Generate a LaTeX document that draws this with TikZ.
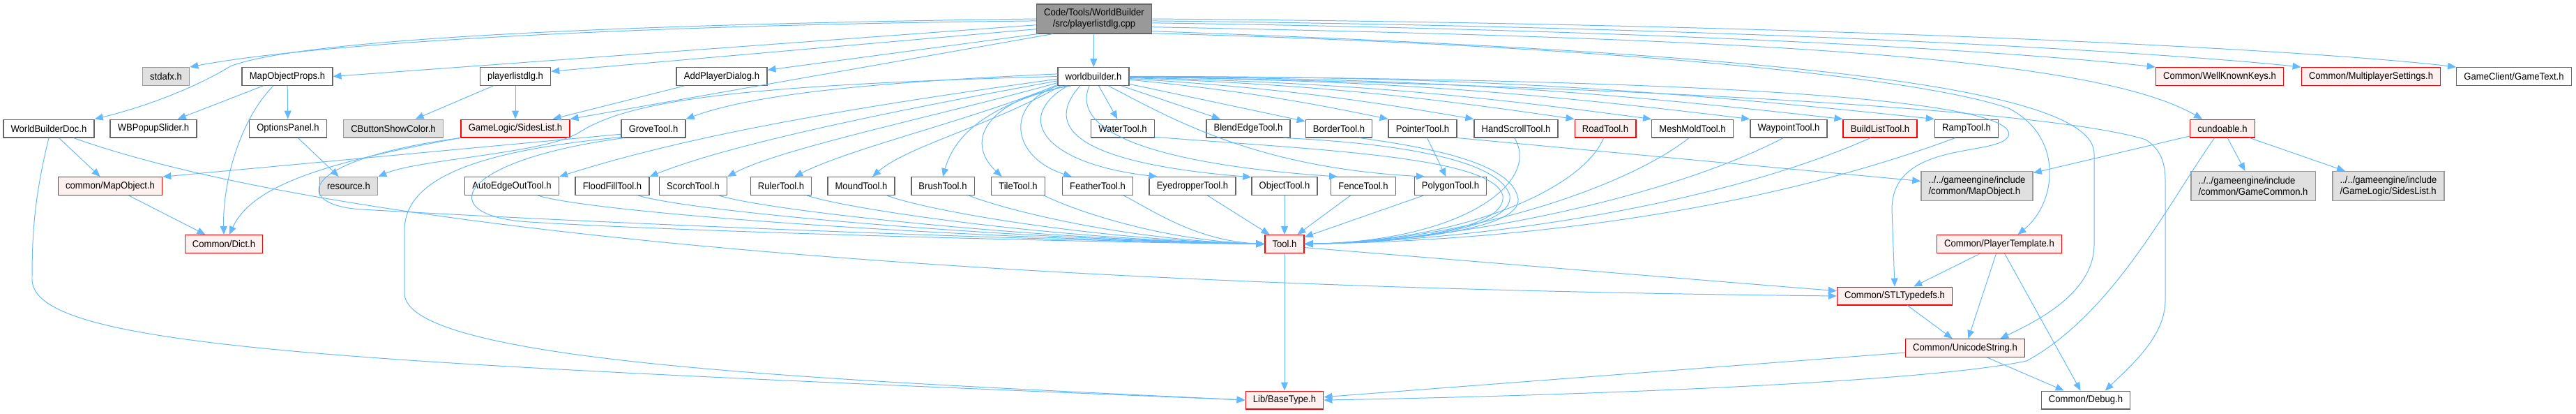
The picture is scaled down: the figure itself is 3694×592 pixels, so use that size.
\documentclass[tikz,border=0pt]{standalone}
\usepackage{fontspec}
\setmainfont{Liberation Sans}[FakeStretch=0.93]
\usetikzlibrary{arrows.meta}

\definecolor{depblue}{HTML}{63B8FF}
\definecolor{hdrgrey}{HTML}{666666}
\definecolor{extgrey}{HTML}{999999}
\definecolor{extfill}{HTML}{E0E0E0}
\definecolor{cutred}{HTML}{FF0000}
\definecolor{cutfill}{HTML}{FFF0F0}
\definecolor{srcfill}{HTML}{999999}

\begin{document}
\begin{tikzpicture}[x=0.025cm, y=-0.025cm, font=\fontsize{10}{11.4}\selectfont,
    hdr/.style={draw=hdrgrey, fill=white, line width=1pt, minimum height=18.2pt,
      inner xsep=7.6pt, inner ysep=1pt},
    ext/.style={hdr, draw=extgrey, fill=extfill},
    cut/.style={hdr, draw=cutred, fill=cutfill},
    srcfile/.style={hdr, fill=srcfill, align=center, minimum height=29.6pt},
    twoline/.style={align=left, minimum height=29.6pt},
    dep/.style={draw=depblue, line width=0.7pt, -{Triangle[length=8.5pt, width=7pt]}}]
  \useasboundingbox (0,0) rectangle (3694,592);

  % source file
  \node[srcfile] (cpp) at (1569,27) {Code/Tools/WorldBuilder\\/src/playerlistdlg.cpp};
  % first row
  \node[ext] (stdafx) at (238,109.5) {stdafx.h};
  \node[hdr] (mapprops) at (412,109.5) {MapObjectProps.h};
  \node[hdr] (plistdlg) at (739,109.5) {playerlistdlg.h};
  \node[hdr] (addplayer) at (1035,109.5) {AddPlayerDialog.h};
  \node[hdr] (wbh) at (1568,109.5) {worldbuilder.h};
  \node[cut] (wkkeys) at (3183,109.5) {Common/WellKnownKeys.h};
  \node[cut] (mpset) at (3400,109.5) {Common/MultiplayerSettings.h};
  \node[hdr] (gametext) at (3605,109.5) {GameClient/GameText.h};
  % second row
  \node[hdr] (wbdoc) at (70,184) {WorldBuilderDoc.h};
  \node[hdr] (popup) at (220,184) {WBPopupSlider.h};
  \node[hdr] (optpanel) at (413,184) {OptionsPanel.h};
  \node[ext] (showcolor) at (564,184) {CButtonShowColor.h};
  \node[cut] (gsides) at (739,184) {GameLogic/SidesList.h};
  \node[hdr] (grove) at (937,184) {GroveTool.h};
  \node[hdr] (water) at (1610,184) {WaterTool.h};
  \node[hdr] (blend) at (1790,184) {BlendEdgeTool.h};
  \node[hdr] (border) at (1920,184) {BorderTool.h};
  \node[hdr] (pointer) at (2040,184) {PointerTool.h};
  \node[hdr] (handscroll) at (2174,184) {HandScrollTool.h};
  \node[cut] (road) at (2302,184) {RoadTool.h};
  \node[hdr] (meshmold) at (2427,184) {MeshMoldTool.h};
  \node[hdr] (waypoint) at (2565,184) {WaypointTool.h};
  \node[cut] (buildlist) at (2696,184) {BuildListTool.h};
  \node[hdr] (ramp) at (2820,184) {RampTool.h};
  \node[cut] (cundo) at (3187,184) {cundoable.h};
  % third row
  \node[cut] (mapobj) at (158,266.5) {common/MapObject.h};
  \node[ext] (resource) at (500,266.5) {resource.h};
  \node[hdr] (autoedge) at (734,266.5) {AutoEdgeOutTool.h};
  \node[hdr] (floodfill) at (878,266.5) {FloodFillTool.h};
  \node[hdr] (scorch) at (994,266.5) {ScorchTool.h};
  \node[hdr] (ruler) at (1120,266.5) {RulerTool.h};
  \node[hdr] (mound) at (1235,266.5) {MoundTool.h};
  \node[hdr] (brush) at (1352,266.5) {BrushTool.h};
  \node[hdr] (tile) at (1460,266.5) {TileTool.h};
  \node[hdr] (feather) at (1574,266.5) {FeatherTool.h};
  \node[hdr] (eyedrop) at (1710,266.5) {EyedropperTool.h};
  \node[hdr] (object) at (1842,266.5) {ObjectTool.h};
  \node[hdr] (fence) at (1955,266.5) {FenceTool.h};
  \node[hdr] (polygon) at (2080,266.5) {PolygonTool.h};
  \node[ext, twoline] (gemapobj) at (2835,266.5) {../../gameengine/include\\/common/MapObject.h};
  \node[ext, twoline] (gecommon) at (3231,266.5) {../../gameengine/include\\/common/GameCommon.h};
  \node[ext, twoline] (gesides) at (3425,266.5) {../../gameengine/include\\/GameLogic/SidesList.h};
  % lower rows
  \node[cut] (dict) at (321,349.5) {Common/Dict.h};
  \node[cut] (tool) at (1842,349.5) {Tool.h};
  \node[cut] (ptemplate) at (2867,349.5) {Common/PlayerTemplate.h};
  \node[cut] (stl) at (2717,424) {Common/STLTypedefs.h};
  \node[cut] (ustring) at (2818,498.5) {Common/UnicodeString.h};
  \node[cut] (basetype) at (1842,573) {Lib/BaseType.h};
  \node[hdr] (debug) at (2991,573) {Common/Debug.h};

  % includes of the source file
  \draw[dep] (cpp.182) .. controls (900,36) and (450,62) .. (stdafx.north east);
  \draw[dep] (cpp.180) .. controls (800,36) and (420,60) .. (330,95)
    .. controls (290,120) and (220,150) .. (wbdoc.north east);
  \draw[dep] (cpp.186) -- (mapprops.east);
  \draw[dep] (cpp.190) -- (plistdlg.8);
  \draw[dep] (cpp.195) -- (addplayer.8);
  \draw[dep] (cpp.200) -- (gsides.north east);
  \draw[dep] (cpp) -- (wbh);
  \draw[dep] (cpp.-4) .. controls (2500,45) and (2950,80) .. (wkkeys.north west);
  \draw[dep] (cpp.-2) .. controls (2600,40) and (3150,80) .. (mpset.north west);
  \draw[dep] (cpp.0) .. controls (2700,35) and (3350,75) .. (gametext.north west);
  \draw[dep] (cpp.-8) .. controls (2500,55) and (3000,80) .. (cundo.155);
  \draw[dep] (cpp.-12) .. controls (2500,75) and (3003,120) .. (3003,220)
    -- (3003,350) .. controls (3003,420) and (2920,460) .. (ustring.15);
  \draw[dep] (cpp.-14) .. controls (2300,65) and (2750,110) .. (2880,155)
    .. controls (2960,195) and (2950,290) .. (ptemplate.27);

  % includes of worldbuilder.h
  \draw[dep] (wbh.176) .. controls (1250,118) and (1080,135) .. (grove.north east);
  \draw[dep] (wbh.180) .. controls (1050,122) and (900,145) .. (830,190)
    .. controls (780,220) and (600,228) .. (resource.north east);
  \draw[dep] (wbh.184) .. controls (1250,150) and (1000,190) .. (autoedge.north east);
  \draw[dep] (wbh.187) .. controls (1300,155) and (1050,205) .. (floodfill.north east);
  \draw[dep] (wbh.190) .. controls (1350,165) and (1120,212) .. (scorch.north east);
  \draw[dep] (wbh.193) .. controls (1400,170) and (1220,212) .. (ruler.35);
  \draw[dep] (wbh.196) .. controls (1420,180) and (1300,210) .. (mound.40);
  \draw[dep] (wbh.199) .. controls (1420,150) and (1370,190) .. (brush.north);
  \draw[dep] (wbh.203) .. controls (1420,140) and (1380,200) .. (tile.150);
  \draw[dep] (wbh.south west) .. controls (1440,150) and (1450,225) .. (feather.160);
  \draw[dep] (wbh.200) .. controls (1450,170) and (1500,235) .. (eyedrop.165);
  \draw[dep] (wbh.215) .. controls (1480,200) and (1600,238) .. (object.165);
  \draw[dep] (wbh.246) .. controls (1530,200) and (1700,238) .. (fence.160);
  \draw[dep] (wbh.-32) .. controls (1680,170) and (1800,240) .. (polygon.160);
  \draw[dep] (wbh) -- (water);
  \draw[dep] (wbh) -- (blend);
  \draw[dep] (wbh) -- (border);
  \draw[dep] (wbh) to[bend left=3] (pointer.north west);
  \draw[dep] (wbh) to[bend left=3] (handscroll.north west);
  \draw[dep] (wbh) to[bend left=3] (road.north west);
  \draw[dep] (wbh) to[bend left=3] (meshmold.north west);
  \draw[dep] (wbh) to[bend left=3] (waypoint.north west);
  \draw[dep] (wbh) to[bend left=3] (buildlist.north west);
  \draw[dep] (wbh) to[bend left=3] (ramp.north west);
  \draw[dep] (wbh.east) .. controls (2400,112) and (2900,140) .. (2880,195)
    .. controls (2865,225) and (2713,200) .. (2713,300) -- (stl.north);
  \draw[dep] (wbh.east) .. controls (2400,125) and (2950,160) .. (3077,200)
    .. controls (3100,215) and (3105,235) .. (3105,260) -- (3105,430)
    .. controls (3105,480) and (3060,520) .. (debug.26);

  % includes of the other headers
  \draw[dep] (mapprops) -- (popup);
  \draw[dep] (mapprops) -- (optpanel);
  \draw[dep] (mapprops.214) .. controls (345,170) and (319,260) .. (dict.north);
  \draw[dep] (plistdlg) -- (showcolor);
  \draw[dep] (plistdlg) -- (gsides);
  \draw[dep] (addplayer) -- (gsides);
  \draw[dep] (wbdoc) -- (mapobj);
  \draw[dep] (wbdoc.south) .. controls (50,280) and (46,330) .. (46,400)
    .. controls (46,500) and (500,520) .. (basetype.west);
  \draw[dep] (wbdoc.-21) .. controls (450,320) and (1300,410) .. (stl.west);
  \draw[dep] (gsides.south west) .. controls (450,235) and (360,270) .. (dict.60);
  \draw[dep] (gsides.south west) .. controls (420,230) and (420,295) .. (520,300)
    .. controls (900,322) and (1500,345) .. (tool.west);
  \draw[dep] (mapobj) -- (dict);
  \draw[dep] (optpanel) -- (resource);
  \draw[dep] (grove.190) -- (mapobj.10);
  \draw[dep] (grove.195) .. controls (700,215) and (580,250) .. (580,330)
    -- (580,420) .. controls (580,520) and (1200,545) .. (basetype.west);
  \draw[dep] (grove.198) .. controls (650,230) and (620,310) .. (760,318)
    .. controls (1000,333) and (1600,348) .. (tool.west);

  % tools into Tool.h
  \draw[dep] (autoedge.-20) .. controls +(80,25) and +(-450,-8) .. (tool.west);
  \draw[dep] (floodfill.-20) .. controls +(70,22) and +(-400,-8) .. (tool.west);
  \draw[dep] (scorch.-20) .. controls +(60,20) and +(-350,-7) .. (tool.west);
  \draw[dep] (ruler.-20) .. controls +(60,20) and +(-300,-6) .. (tool.west);
  \draw[dep] (mound.-20) .. controls +(50,20) and +(-250,-6) .. (tool.west);
  \draw[dep] (brush.-20) .. controls +(50,20) and +(-200,-5) .. (tool.west);
  \draw[dep] (tile.-20) .. controls +(40,20) and +(-150,-5) .. (tool.west);
  \draw[dep] (feather.-20) .. controls +(40,20) and +(-100,-5) .. (tool.west);
  \draw[dep] (eyedrop) -- (tool);
  \draw[dep] (object) -- (tool);
  \draw[dep] (fence) -- (tool);
  \draw[dep] (polygon) -- (tool);
  \draw[dep] (water.-15) .. controls (1900,215) and (2140,225) .. (2155,280)
    .. controls (2162,330) and (2000,347) .. (tool.east);
  \draw[dep] (blend.-15) .. controls (2000,205) and (2150,228) .. (2165,280)
    .. controls (2172,330) and (2000,347) .. (tool.east);
  \draw[dep] (border.-25) .. controls (2080,215) and (2170,240) .. (2177,285)
    .. controls (2182,330) and (2000,347) .. (tool.east);
  \draw[dep] (handscroll.-100) .. controls (2210,260) and (2100,345) .. (tool.east);
  \draw[dep] (road.-100) .. controls (2270,270) and (2100,345) .. (tool.east);
  \draw[dep] (meshmold.-110) .. controls (2330,270) and (2100,345) .. (tool.east);
  \draw[dep] (waypoint.-120) .. controls (2400,280) and (2100,345) .. (tool.east);
  \draw[dep] (buildlist.-135) .. controls (2450,300) and (2100,345) .. (tool.east);
  \draw[dep] (ramp.-140) .. controls (2500,310) and (2150,345) .. (tool.east);
  \draw[dep] (pointer) -- (polygon);
  \draw[dep] (pointer.south east) -- (gemapobj.175);

  % cundoable.h and the common headers
  \draw[dep] (cundo) -- (gemapobj);
  \draw[dep] (cundo) -- (gecommon);
  \draw[dep] (cundo) -- (gesides);
  \draw[dep] (cundo.-130) .. controls (3110,290) and (3030,450) .. (2906,517)
    .. controls (2750,550) and (2200,568) .. (basetype.east);
  \draw[dep] (tool) -- (basetype);
  \draw[dep] (tool.-10) .. controls (2000,365) and (2400,398) .. (stl.175);
  \draw[dep] (ptemplate) -- (stl);
  \draw[dep] (ptemplate) -- (ustring);
  \draw[dep] (ptemplate) -- (debug);
  \draw[dep] (stl) -- (ustring);
  \draw[dep] (ustring) -- (debug);
  \draw[dep] (ustring) -- (basetype);
\end{tikzpicture}
\end{document}
